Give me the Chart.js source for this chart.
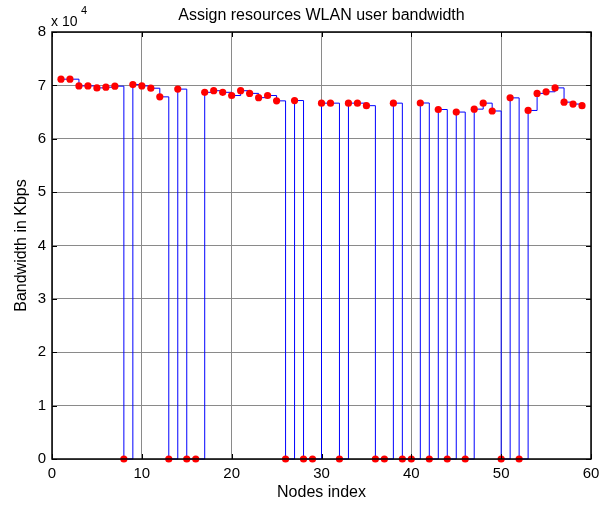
<!DOCTYPE html>
<html>
<head>
<meta charset="utf-8">
<script src="https://cdn.jsdelivr.net/npm/chart.js@4"></script>
<style>
  body { margin: 0; background: #fff; }
</style>
</head>
<body>
<canvas id="bw" width="600" height="506"></canvas>
<script>
// bandwidth (Kbps) handed to each WLAN node, 0 = node got nothing
var bandwidth = [
    71160, 71160, 69900, 69900, 69530, 69660, 69850, 0, 70150, 69900,
    69470, 67850, 0, 69300, 0, 0, 68700, 69000, 68700, 68100,
    69000, 68500, 67700, 68100, 67100, 0, 67160, 0, 0, 66670,
    66670, 0, 66670, 66670, 66200, 0, 0, 66670, 0, 0,
    66700, 0, 65480, 0, 65000, 0, 65550, 66670, 65200, 0,
    67660, 0, 65300, 68500, 68800, 69530, 66860, 66500, 66200
];
var nodes = bandwidth.map(function (v, i) { return i + 1; });
var xTicks = [0, 10, 20, 30, 40, 50, 60];
var yTicks = [0, 1, 2, 3, 4, 5, 6, 7, 8];

var points = nodes.map(function (n, i) {
    return { x: n, y: bandwidth[i] };
});

var font = "Arial, 'Liberation Sans', sans-serif";

// title, exponent note, box and the small inward ticks
var matlabAxes = {
    id: 'matlabAxes',
    afterDraw: function (chart) {
        var ctx = chart.ctx;
        var a = chart.chartArea;
        var xs = chart.scales.x;
        var ys = chart.scales.y;
        ctx.save();
        ctx.strokeStyle = '#000';
        ctx.lineWidth = 1;
        ctx.beginPath();
        xTicks.forEach(function (t) {
            var px = Math.round(xs.getPixelForValue(t)) + 0.5;
            ctx.moveTo(px, a.bottom); ctx.lineTo(px, a.bottom - 5);
            ctx.moveTo(px, a.top); ctx.lineTo(px, a.top + 5);
        });
        yTicks.forEach(function (t) {
            var py = Math.round(ys.getPixelForValue(t * 10000)) + 0.5;
            ctx.moveTo(a.left, py); ctx.lineTo(a.left + 5, py);
            ctx.moveTo(a.right, py); ctx.lineTo(a.right - 5, py);
        });
        ctx.stroke();
        ctx.lineWidth = 1.5;
        ctx.strokeRect(a.left, a.top, a.right - a.left, a.bottom - a.top);

        ctx.fillStyle = '#000';
        ctx.textAlign = 'center';
        ctx.textBaseline = 'middle';
        ctx.font = '16px ' + font;
        ctx.fillText('Assign resources WLAN user bandwidth', (a.left + a.right) / 2, 16);

        ctx.textAlign = 'left';
        ctx.textBaseline = 'alphabetic';
        ctx.font = '14px ' + font;
        ctx.fillText('x 10', 51, 26);
        ctx.font = '11px ' + font;
        ctx.fillText('4', 81, 14);
        ctx.restore();
    }
};

new Chart(document.getElementById('bw'), {
    type: 'line',
    data: {
        datasets: [{
            data: points,
            showLine: false,
            pointRadius: 3.6,
            pointHoverRadius: 3.6,
            pointBackgroundColor: '#ff0000',
            pointBorderWidth: 0,
            clip: false,
            order: 0
        }, {
            data: points,
            stepped: 'before',
            borderColor: '#0000ff',
            borderWidth: 1,
            pointRadius: 0,
            fill: false,
            clip: false,
            order: 1
        }]
    },
    options: {
        responsive: false,
        animation: false,
        events: [],
        layout: { padding: { left: 8, right: 9, top: 32, bottom: 0 } },
        plugins: {
            legend: { display: false },
            tooltip: { enabled: false }
        },
        scales: {
            x: {
                type: 'linear',
                min: 0,
                max: 60,
                afterFit: function (s) {
                    s.height = 47;
                    s.paddingLeft = 0;
                    s.paddingRight = 0;
                },
                afterBuildTicks: function (s) {
                    s.ticks = xTicks.map(function (v) { return { value: v }; });
                },
                grid: { color: '#8a8a8a', lineWidth: 1, drawTicks: false },
                border: { display: false },
                ticks: {
                    padding: 6,
                    color: '#000',
                    font: { family: font, size: 15 }
                },
                title: {
                    display: true,
                    text: 'Nodes index',
                    color: '#000',
                    font: { family: font, size: 16 }
                }
            },
            y: {
                min: 0,
                max: 80000,
                afterFit: function (s) {
                    s.width = 44;
                    s.paddingTop = 0;
                    s.paddingBottom = 0;
                },
                afterBuildTicks: function (s) {
                    s.ticks = yTicks.map(function (v) { return { value: v * 10000 }; });
                },
                grid: { color: '#8a8a8a', lineWidth: 1, drawTicks: false },
                border: { display: false },
                ticks: {
                    padding: 6,
                    color: '#000',
                    font: { family: font, size: 15 },
                    callback: function (v) { return v / 10000; }
                },
                title: {
                    display: true,
                    text: 'Bandwidth in Kbps',
                    color: '#000',
                    font: { family: font, size: 16 }
                }
            }
        }
    },
    plugins: [matlabAxes]
});
</script>
</body>
</html>
